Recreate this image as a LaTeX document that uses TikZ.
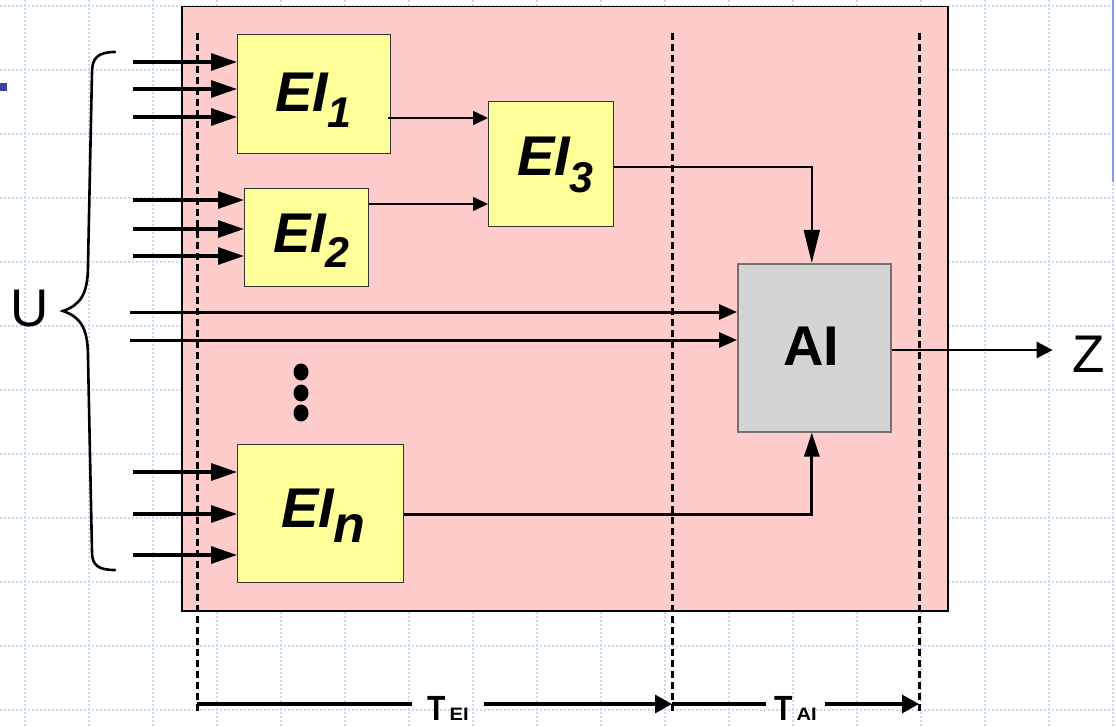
\documentclass[tikz,border=0pt]{standalone}
\usepackage{fontspec}
\usepackage{graphicx}
\setmainfont{Liberation Sans}
\usetikzlibrary{arrows.meta,calc}
\definecolor{pinkbg}{HTML}{FFCCCC}
\definecolor{eiyellow}{HTML}{FFFF99}
\definecolor{aigray}{HTML}{D4D4D4}
\definecolor{gridblue}{HTML}{C9D7F7}
\definecolor{slideblue}{HTML}{3F3F9F}
\definecolor{lineblue}{HTML}{7F9CF5}
\newcommand\eisub[2]{EI\kern-1pt\raisebox{-#2}{\fontsize{43pt}{43pt}\selectfont #1}}
\newcommand\tsym[1]{\scalebox{0.86}[1]{\fontsize{35pt}{35pt}\selectfont T}\kern4pt{\fontsize{18pt}{18pt}\selectfont\scalebox{1.12}[1]{#1}}}
\begin{document}
\begin{tikzpicture}[x=1pt,y=-1pt,
  gridline/.style={gridblue, line width=1.2pt, dash pattern=on 2pt off 2pt},
  eibox/.style={draw=black!80, fill=eiyellow, line width=1.3pt, inner sep=0pt, anchor=north west},
  aibox/.style={draw=black!55, fill=aigray, line width=1.6pt, inner sep=0pt, anchor=north west},
  eitext/.style={inner sep=0pt, anchor=base, font=\fontsize{56pt}{56pt}\selectfont\bfseries\itshape},
  bigletter/.style={inner sep=0pt, anchor=base, font=\fontsize{53pt}{53pt}\selectfont},
  tlabel/.style={inner ysep=0pt, anchor=base, font=\bfseries},
  inarrow/.style={line width=3.2pt, -{Triangle[length=26pt,width=17pt]}},
  aiinarrow/.style={line width=3pt, -{Triangle[length=18pt,width=15pt]}},
  thinarrow/.style={line width=1.6pt, -{Triangle[length=15pt,width=14pt]}},
  downarrow/.style={line width=1.6pt, -{Triangle[length=33pt,width=16pt]}},
  uparrow/.style={line width=3pt, -{Triangle[length=24pt,width=15pt]}},
  zarrow/.style={line width=2.8pt, -{Triangle[length=16pt,width=16pt]}},
  tline/.style={line width=3.2pt},
  tarrow/.style={line width=3.2pt, -{Triangle[length=17pt,width=18pt]}},
  phaseline/.style={line width=3pt, dash pattern=on 7pt off 4pt},
  bracepath/.style={line width=2.6pt, line cap=round}
]
\useasboundingbox (0,0) rectangle (1116,727);
\fill[white] (0,0) rectangle (1116,727);
% background grid
\foreach \gx in {25,89,...,1113} \draw[gridline] (\gx,0) -- (\gx,727);
\foreach \gy in {6,70,...,710} \draw[gridline] (0,\gy) -- (1116,\gy);
% slide artefacts
\fill[slideblue] (0,83) rectangle (7,91);
\draw[lineblue, line width=2pt] (1113,0) -- (1113,182);
% frame
\node[draw=black, fill=pinkbg, line width=1.5pt, inner sep=0pt, anchor=north west,
      minimum width=766pt, minimum height=604pt] (frame) at (181,6) {};
% phase lines
\draw[phaseline] (197,33) -- (197,713);
\draw[phaseline] (672,33) -- (672,713);
\draw[phaseline] (919,33) -- (919,713);
% boxes
\node[eibox, minimum width=153pt, minimum height=119pt] (ei1) at (237,34) {};
\node[eibox, minimum width=124pt, minimum height=98pt] (ei2) at (244,188) {};
\node[eibox, minimum width=125pt, minimum height=125pt] (ei3) at (488,101) {};
\node[eibox, minimum width=166pt, minimum height=138pt] (ein) at (237,444) {};
\node[aibox, minimum width=153pt, minimum height=168pt] (ai) at (737,263) {};
% labels
\node[eitext] (l1) at (313,112) {\eisub{1}{16pt}};
\node[eitext] (l2) at (311,253) {\eisub{2}{15pt}};
\node[eitext] (l3) at (555,176) {\eisub{3}{17pt}};
\node[eitext] (ln) at (323,527) {EI\kern-1pt\raisebox{-15pt}{\fontsize{52pt}{52pt}\selectfont n}};
\node[inner sep=0pt, anchor=base, font=\fontsize{56pt}{56pt}\selectfont\bfseries] (lai) at (811.5,365) {AI};
\node[bigletter] (u) at (29.5,326) {U};
\node[bigletter] (z) at (1089,372) {Z};
% input arrows
\foreach \yy [count=\i] in {62,89,117} {
  \coordinate (ua\i) at (133,\yy);
  \draw[inarrow] (ua\i) -- (ua\i -| ei1.west);
}
\foreach \yy [count=\i] in {200,229,256} {
  \coordinate (ub\i) at (133,\yy);
  \draw[inarrow] (ub\i) -- (ub\i -| ei2.west);
}
\foreach \yy [count=\i] in {472,514,555} {
  \coordinate (un\i) at (133,\yy);
  \draw[inarrow] (un\i) -- (un\i -| ein.west);
}
\foreach \yy [count=\i] in {312,340} {
  \coordinate (uc\i) at (130,\yy);
  \draw[aiinarrow] (uc\i) -- (uc\i -| ai.west);
}
% internal connections
\coordinate (c13) at (0,118);
\coordinate (c23) at (0,204);
\coordinate (c3a) at (0,167);
\coordinate (cna) at (0,514);
\coordinate (cz) at (0,350);
\draw[thinarrow] ([xshift=-3pt]ei1.east |- c13) -- (ei3.west |- c13);
\draw[thinarrow] (ei2.east |- c23) -- (ei3.west |- c23);
\draw[downarrow] (ei3.east |- c3a) -| ([xshift=-2.5pt]ai.north);
\draw[uparrow] (ein.east |- cna) -| ([xshift=-2.5pt]ai.south);
\draw[zarrow, shorten >=20pt] (ai.east |- cz) -- (z.west |- cz);
% dots
\fill (301,372) ellipse [x radius=7.5pt, y radius=8.5pt];
\fill (301,393) ellipse [x radius=7.5pt, y radius=8.5pt];
\fill (301,413) ellipse [x radius=7.5pt, y radius=8.5pt];
% brace
\draw[bracepath] (115,52) .. controls (98,52) and (92,58) .. (92,72) -- (88,265)
  .. controls (88,295) and (80,305) .. (63,311)
  .. controls (80,317) and (88,327) .. (88,357) -- (92,552)
  .. controls (92,565) and (98,570) .. (115,570);
% time axis
\coordinate (t0) at (197,704);
\coordinate (t1) at (672,704);
\coordinate (t2) at (919,704);
\node[tlabel, inner xsep=15pt] (tei) at (448,720) {\tsym{EI}};
\node[tlabel, inner xsep=8pt] (tai) at (795.5,720) {\tsym{AI}};
\draw[tline] (t0) -- (t0 -| tei.west);
\draw[tarrow] (t0 -| tei.east) -- (t1);
\draw[tline] (t1) -- (t1 -| tai.west);
\draw[tarrow] (t1 -| tai.east) -- (t2);
\end{tikzpicture}
\end{document}
